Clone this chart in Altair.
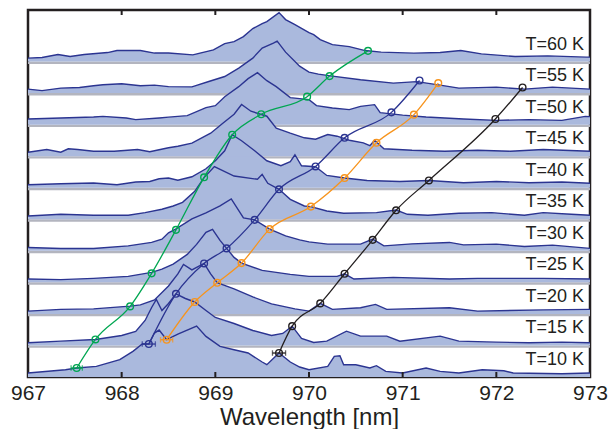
import altair as alt
import pandas as pd

# ---------------- data ----------------
temps = [10, 15, 20, 25, 30, 35, 40, 45, 50, 55, 60]
labels = ["T=10 K", "T=15 K", "T=20 K", "T=25 K", "T=30 K", "T=35 K",
          "T=40 K", "T=45 K", "T=50 K", "T=55 K", "T=60 K"]
OFFSET = 31.57  # vertical offset between consecutive spectra (arb. units)

wl_10 = [967.0, 967.4, 967.52, 967.73, 967.98, 968.12, 968.22, 968.29, 968.35, 968.4, 968.48, 968.6, 968.8, 968.9, 969.05, 969.2, 969.35, 969.5, 969.55, 969.68, 969.8, 969.9, 970.0, 970.2, 970.27, 970.33, 970.37, 970.5, 970.65, 970.72, 970.82, 971.0, 971.25, 971.4, 971.6, 971.85, 972.08, 972.18, 972.7, 973.0]
in_10 = [4, 7.3, 9, 10.6, 17.3, 25.6, 33, 33, 44, 47, 37.3, 43, 51, 40.6, 30.6, 27.3, 24, 15, 12.3, 24, 15, 10, 7.3, 10.6, 20.6, 21.3, 12.3, 12.3, 9, 11.3, 5.6, 4, 9, 5.6, 4, 7.3, 6.3, 4, 3.3, 4]

wl_15 = [967.0, 967.35, 967.72, 968.0, 968.15, 968.25, 968.32, 968.37, 968.43, 968.5, 968.58, 968.68, 968.78, 968.9, 969.0, 969.2, 969.4, 969.6, 969.72, 969.82, 969.92, 970.05, 970.19, 970.4, 970.55, 970.83, 970.97, 971.4, 971.6, 972.0, 972.35, 972.7, 973.0]
in_15 = [2.7, 4.3, 6, 10, 14, 25, 38, 46, 35, 42, 51.7, 47, 43.5, 35, 28, 22, 15, 10, 12, 19.3, 7, 3, 4.3, 14.3, 9.3, 9.3, 4.3, 9.3, 4.3, 3.3, 2.7, 3.3, 2.7]

wl_20 = [967.0, 967.35, 967.7, 968.09, 968.2, 968.35, 968.5, 968.6, 968.66, 968.75, 968.88, 968.95, 969.02, 969.2, 969.4, 969.6, 969.85, 970.0, 970.12, 970.25, 970.55, 970.71, 970.83, 971.5, 971.8, 972.5, 973.0]
in_20 = [2.8, 4.5, 5, 7.8, 9, 14, 28, 40, 49.5, 44, 50.5, 40, 31.2, 25, 17, 10, 5, 2.8, 10.5, 4.5, 6.2, 9.5, 4.5, 6.2, 2.8, 4, 4.5]

wl_25 = [967.0, 967.35, 967.7, 968.07, 968.32, 968.43, 968.55, 968.7, 968.8, 968.9, 968.97, 969.05, 969.12, 969.2, 969.28, 969.5, 969.8, 970.0, 970.3, 970.38, 970.48, 970.9, 971.5, 971.8, 972.5, 973.0]
in_25 = [3.3, 2.7, 4, 6, 10, 13.3, 18.3, 28, 38, 50, 53, 42, 34, 25, 19.3, 12, 8, 6, 6, 8.6, 3.3, 5, 3.3, 4, 4, 3.3]

wl_30 = [967.0, 967.35, 967.7, 968.07, 968.32, 968.43, 968.5, 968.58, 968.75, 968.9, 969.05, 969.17, 969.3, 969.42, 969.58, 969.75, 969.9, 970.0, 970.2, 970.55, 970.68, 970.8, 971.1, 971.5, 971.65, 972.0, 972.3, 972.6, 973.0]
in_30 = [3.4, 2.4, 2.4, 5, 8.4, 11.7, 18, 22, 32, 38, 45, 52, 33, 31, 21.7, 15, 11, 9, 6.7, 6.7, 11.7, 5, 7, 8.4, 6, 6.7, 4.4, 5.7, 2.4]

wl_35 = [967.0, 967.35, 967.7, 968.07, 968.25, 968.43, 968.55, 968.65, 968.78, 968.88, 968.99, 969.2, 969.45, 969.5, 969.56, 969.68, 969.8, 969.95, 970.02, 970.19, 970.37, 970.72, 970.93, 971.05, 971.27, 971.6, 971.95, 972.3, 972.5, 972.8, 973.0]
in_35 = [3.3, 5, 4, 4, 6.7, 10, 13.3, 17, 28, 41.7, 52.7, 43.3, 40, 45, 36, 30, 20, 13.3, 12.7, 8.3, 6, 6.7, 9.3, 5, 4, 6, 6.7, 4, 6.7, 5, 4]

wl_40 = [967.0, 967.35, 967.7, 967.95, 968.15, 968.3, 968.4, 968.5, 968.6, 968.75, 968.9, 969.0, 969.1, 969.18, 969.28, 969.42, 969.55, 969.7, 969.8, 969.85, 969.92, 970.07, 970.19, 970.38, 970.62, 970.97, 971.28, 971.65, 972.0, 972.35, 972.7, 973.0]
in_40 = [3, 4, 4.7, 3, 5.7, 6.3, 9, 9.7, 7.5, 11, 19, 27, 37, 53, 47, 37, 27, 22, 26, 33, 22, 21, 12.3, 9.7, 7.3, 6.3, 7.3, 5, 6.3, 5, 5.7, 4.5]

wl_45 = [967.0, 967.2, 967.35, 967.43, 967.53, 967.7, 967.92, 968.17, 968.3, 968.4, 968.5, 968.6, 968.75, 968.95, 969.08, 969.2, 969.28, 969.38, 969.55, 969.65, 969.8, 969.95, 970.07, 970.2, 970.3, 970.43, 970.58, 970.65, 970.7, 970.8, 971.1, 971.45, 971.8, 972.15, 972.5, 973.0]
in_45 = [4, 6.7, 4, 7.4, 6.7, 5, 5, 6.7, 4.4, 6.5, 8.4, 10, 13, 23, 33, 42, 51.7, 45, 40, 28, 23, 18.4, 17, 21.7, 20, 16, 13.4, 10.5, 16, 7.5, 6, 5, 6, 5, 6.7, 5]

wl_50 = [967.0, 967.35, 967.7, 967.8, 968.05, 968.15, 968.4, 968.5, 968.7, 968.9, 969.0, 969.1, 969.25, 969.35, 969.45, 969.55, 969.65, 969.8, 970.0, 970.08, 970.25, 970.43, 970.55, 970.7, 970.76, 971.0, 971.25, 971.65, 972.0, 972.35, 972.7, 972.95, 973.0]
in_50 = [5.7, 6.7, 7.7, 8.3, 6.7, 5, 6.7, 7.5, 9, 17, 19, 28, 38, 46, 52, 44, 38, 27, 25, 19, 16.7, 15, 18.3, 20, 12, 9.5, 7.7, 5.7, 4.3, 5, 4.3, 8.3, 8]

wl_55 = [967.0, 967.15, 967.35, 967.55, 967.7, 967.8, 968.0, 968.2, 968.35, 968.5, 968.75, 968.93, 969.1, 969.25, 969.4, 969.5, 969.62, 969.66, 969.75, 969.9, 970.0, 970.1, 970.25, 970.55, 970.9, 971.15, 971.4, 971.6, 972.0, 972.3, 972.6, 973.0]
in_55 = [4, 2.5, 5, 5.6, 7.3, 8.3, 9.3, 7.3, 8, 6.5, 6.2, 11.6, 16.6, 25, 35, 45, 50, 52, 41, 27, 21, 19, 17, 13.3, 10, 11.5, 8, 5, 6, 4, 6, 4]

wl_60 = [967.0, 967.15, 967.32, 967.45, 967.6, 967.85, 967.95, 968.2, 968.35, 968.5, 968.76, 968.98, 969.1, 969.2, 969.3, 969.4, 969.5, 969.55, 969.68, 969.75, 969.85, 970.0, 970.05, 970.12, 970.25, 970.43, 970.6, 970.77, 971.12, 971.4, 971.62, 971.84, 972.2, 972.55, 972.96, 973.0]
in_60 = [3.4, 4, 7, 5, 7, 9, 11, 11, 8.5, 8.5, 6.7, 11.7, 18, 20, 25, 33, 38, 40, 49, 42, 37, 29, 27, 22, 17, 15, 11, 9.4, 8.4, 9, 11, 7.7, 5, 5.7, 4.4, 4.4]

# peak-tracking series: temperature, wavelength, intensity on the spectrum
green_T = [10, 15, 20, 25, 30, 35, 40, 45, 50, 55, 60]
green_wl = [967.52, 967.72, 968.09, 968.32, 968.58, 968.88, 969.18, 969.49, 969.98, 970.22, 970.63]
green_in = [9, 6, 7.5, 9, 21, 42, 53, 42, 28, 17, 10.7]

navy_T = [10, 15, 20, 25, 30, 35, 40, 45, 50, 55]
navy_wl = [968.29, 968.58, 968.88, 969.12, 969.42, 969.68, 970.07, 970.38, 970.88, 971.18]
navy_in = [33, 51.7, 50.5, 34, 31, 30, 21.3, 18.4, 12.3, 12.6]

orange_T = [10, 15, 20, 25, 30, 35, 40, 45, 50, 55]
orange_wl = [968.48, 968.78, 969.02, 969.28, 969.58, 970.02, 970.38, 970.72, 971.12, 971.38]
orange_in = [37.3, 43.5, 31.2, 19.3, 21.7, 12.7, 9.7, 13.4, 10, 10]

black_T = [10, 15, 20, 25, 30, 35, 40, 50, 55]
black_wl = [969.68, 969.82, 970.12, 970.38, 970.68, 970.93, 971.28, 971.99, 972.28]
black_in = [24, 19.3, 10.5, 8.6, 11, 9, 7.3, 5.7, 5.6]

# 10 K error bars (half widths, nm)
err_series = ["green", "navy", "orange", "black"]
err_half = [0.06, 0.07, 0.065, 0.07]

tick_vals = [968, 969, 970, 971, 972]
label_vals = [967, 968, 969, 970, 971, 972, 973]

# ---------------- styling ----------------
FILL = "#aab9dd"
NAVY = "#2b3491"
GRAY = "#b3b5bf"
INK = "#231f20"
FONT = "Liberation Sans"
series_colors = {"green": "#00a651", "navy": "#2b3491", "orange": "#f7941d", "black": "#231f20"}

W, H = 562, 367

# ---------------- tables ----------------
spectra = {10: (wl_10, in_10), 15: (wl_15, in_15), 20: (wl_20, in_20), 25: (wl_25, in_25),
           30: (wl_30, in_30), 35: (wl_35, in_35), 40: (wl_40, in_40), 45: (wl_45, in_45),
           50: (wl_50, in_50), 55: (wl_55, in_55), 60: (wl_60, in_60)}

def base_of(T):
    return (T - 10) / 5 * OFFSET

rows = []
for T, (wl, inten) in spectra.items():
    b = base_of(T)
    for w, i in zip(wl, inten):
        rows.append({"T": T, "wl": w, "y": b + i, "base": b})
spec = pd.DataFrame(rows)

base_df = pd.DataFrame({"T": temps, "label": labels,
                        "base": [base_of(t) for t in temps]})
base_df["yb"] = base_df["base"] - 1.2
base_df["x0"] = 967.0
base_df["x1"] = 973.0

track_rows = []
for name, Ts, wls, ins in [("green", green_T, green_wl, green_in),
                           ("navy", navy_T, navy_wl, navy_in),
                           ("orange", orange_T, orange_wl, orange_in),
                           ("black", black_T, black_wl, black_in)]:
    for T, w, i in zip(Ts, wls, ins):
        track_rows.append({"series": name, "T": T, "wl": w, "y": base_of(T) + i})
track = pd.DataFrame(track_rows)

err = track[track["T"] == 10].copy()
err["half"] = err["series"].map(dict(zip(err_series, err_half)))
err["lo"] = err["wl"] - err["half"]
err["hi"] = err["wl"] + err["half"]

ticks = pd.DataFrame({"v": tick_vals})

# ---------------- encodings ----------------
xscale = alt.Scale(domain=[967, 973], nice=False, zero=False)
yscale = alt.Scale(domain=[0, 367.3], nice=False, zero=False)
xaxis = alt.Axis(values=label_vals, format="d", ticks=False, domain=False, grid=False,
                 labelFont=FONT, labelFontSize=21, labelColor=INK, labelPadding=5,
                 labelFlush=False,
                 title="Wavelength [nm]", titleFont=FONT, titleFontSize=24,
                 titleFontWeight="normal", titleColor=INK, titleBaseline="alphabetic",
                 titleY=47)

X = alt.X("wl:Q", scale=xscale, axis=xaxis)
Y = alt.Y("y:Q", scale=yscale, axis=None)
color = alt.Color("series:N", scale=alt.Scale(domain=list(series_colors.keys()),
                                              range=list(series_colors.values())), legend=None)

baselines = alt.Chart(base_df).mark_rule(color=GRAY, strokeWidth=2.4, clip=True).encode(
    x=alt.X("x0:Q", scale=xscale, axis=xaxis), x2="x1:Q",
    y=alt.Y("yb:Q", scale=yscale, axis=None))

areas = alt.Chart(spec).mark_area(color=FILL, opacity=1, clip=True).encode(
    x=X, y=Y, y2="base:Q", detail="T:N")

lines = alt.Chart(spec).mark_line(color=NAVY, strokeWidth=1.4, clip=True).encode(
    x=X, y=Y, detail="T:N")

ticks_bottom = alt.Chart(ticks).mark_rule(color=INK, strokeWidth=2).encode(
    x=alt.X("v:Q", scale=xscale, axis=xaxis), y=alt.value(H), y2=alt.value(H - 5))
ticks_top = alt.Chart(ticks).mark_rule(color=INK, strokeWidth=2).encode(
    x=alt.X("v:Q", scale=xscale, axis=xaxis), y=alt.value(0), y2=alt.value(5))

track_lines = alt.Chart(track).mark_line(strokeWidth=1.3, interpolate="monotone").encode(
    x=X, y=Y, color=color, detail="series:N")

err_rules = alt.Chart(err).mark_rule(strokeWidth=1.3).encode(
    x=alt.X("lo:Q", scale=xscale, axis=xaxis), x2="hi:Q", y=Y, color=color)
err_caps_lo = alt.Chart(err).mark_point(shape="M0,-1L0,1", size=30, strokeWidth=1.3, filled=False).encode(
    x=alt.X("lo:Q", scale=xscale, axis=xaxis), y=Y, color=color)
err_caps_hi = alt.Chart(err).mark_point(shape="M0,-1L0,1", size=30, strokeWidth=1.3, filled=False).encode(
    x=alt.X("hi:Q", scale=xscale, axis=xaxis), y=Y, color=color)

points = alt.Chart(track).mark_point(shape="circle", filled=False, size=45, strokeWidth=1.4, opacity=1).encode(
    x=X, y=Y, color=color)

text = alt.Chart(base_df).mark_text(align="right", baseline="alphabetic", dy=-12,
                                   font=FONT, fontSize=18, color=INK).encode(
    x=alt.value(556), y=alt.Y("base:Q", scale=yscale, axis=None), text="label:N")

chart = alt.layer(baselines, areas, lines, ticks_bottom, ticks_top, track_lines,
                  err_rules, err_caps_lo, err_caps_hi, points, text).properties(
    width=W, height=H,
    autosize=alt.AutoSizeParams(type="none"),
    padding={"left": 28, "top": 10, "right": 23, "bottom": 52},
    background="white",
).configure_view(stroke=INK, strokeWidth=2.5)

chart.save("out.html", embed_options={"renderer": "svg", "actions": False})
